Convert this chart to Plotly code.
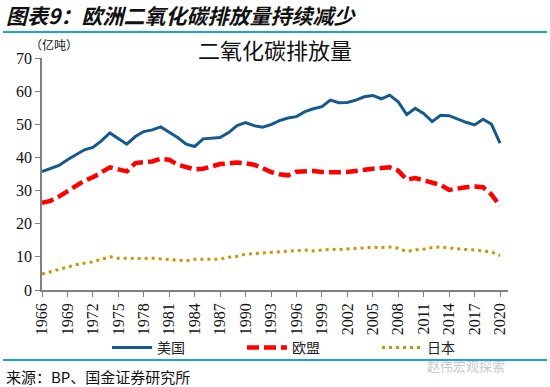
import plotly.graph_objects as go

years = list(range(1966, 2021))
tick_years = list(range(1966, 2021, 3))

us = [35.7, 36.7, 37.6, 39.3, 40.7, 42.3, 43.0, 45.0, 47.4, 45.7,
      44.0, 46.3, 47.8, 48.3, 49.2, 47.6, 46.0, 44.0, 43.3, 45.6,
      45.8, 46.0, 47.5, 49.6, 50.5, 49.6, 49.1, 49.9, 51.1, 51.9,
      52.3, 53.8, 54.7, 55.3, 57.3, 56.5, 56.6, 57.3, 58.3, 58.7,
      57.7, 58.8, 56.8, 52.9, 54.8, 53.3, 50.8, 52.7, 52.6, 51.5,
      50.6, 49.8, 51.5, 50.0, 44.3]

eu = [26.3, 26.9, 28.2, 29.8, 31.5, 33.0, 34.0, 35.5, 37.0, 36.4,
      35.8, 38.3, 38.4, 38.8, 39.6, 39.3, 37.8, 37.0, 36.4, 36.6,
      37.2, 38.0, 38.2, 38.5, 38.2, 37.8, 36.8, 35.6, 34.9, 34.6,
      35.7, 35.9, 35.9, 35.6, 35.4, 35.5, 35.6, 36.0, 36.3, 36.6,
      36.8, 37.0, 36.0, 33.3, 33.8, 33.0, 32.4, 31.7, 30.2, 30.7,
      31.0, 31.2, 31.0, 28.8, 25.3]

jp = [4.8, 5.5, 6.2, 7.0, 7.6, 8.1, 8.5, 9.3, 10.0, 9.6,
      9.5, 9.6, 9.5, 9.6, 9.4, 9.3, 9.0, 8.8, 9.3, 9.3,
      9.3, 9.3, 9.9, 10.2, 10.8, 11.0, 11.2, 11.2, 11.6, 11.8,
      12.0, 12.1, 11.8, 12.1, 12.3, 12.2, 12.4, 12.6, 12.8, 12.9,
      12.8, 13.0, 12.6, 11.6, 12.1, 12.3, 12.8, 13.0, 12.7, 12.4,
      12.2, 12.1, 11.8, 11.5, 10.4]

names = ["美国", "欧盟", "日本"]

W, H = 550, 387
L, R, T, B = 42, 508, 58, 290

def px(x):
    return (x - L) / (R - L)

def py(y):
    return (B - y) / (B - T)

CJK = "Noto Sans CJK SC"
SERIF = "Liberation Serif"

fig = go.Figure()
fig.add_trace(go.Scatter(x=years, y=us, name=names[0], mode="lines",
                         line=dict(color="#16598C", width=3)))
fig.add_trace(go.Scatter(x=years, y=eu, name=names[1], mode="lines",
                         line=dict(color="#FF0000", width=4.5, dash="12px,5px")))
fig.add_trace(go.Scatter(x=years, y=jp, name=names[2], mode="lines",
                         line=dict(color="#C89608", width=3, dash="3px,4px")))

x_end = 1966 + (R - L) / ((500 - 42) / 54)

fig.update_layout(
    width=W, height=H,
    margin=dict(l=L, r=W - R, t=T, b=H - B, pad=0, autoexpand=False),
    paper_bgcolor="white", plot_bgcolor="white",
    showlegend=True,
    legend=dict(orientation="h", x=px(107), xanchor="left", y=py(348), yanchor="middle",
                font=dict(family=CJK, size=14, color="#222"),
                entrywidth=80, entrywidthmode="pixels", itemwidth=40,
                bgcolor="rgba(0,0,0,0)"),
    xaxis=dict(range=[1966, x_end], tickmode="array", tickvals=tick_years,
               ticktext=[str(y) for y in tick_years], tickangle=-90,
               ticks="outside", ticklen=5, tickcolor="#808080",
               showline=True, linecolor="#808080", linewidth=1.5,
               showgrid=False, zeroline=False, automargin=False,
               tickfont=dict(family=SERIF, size=16, color="#111")),
    yaxis=dict(range=[0, 70], dtick=10, ticks="outside", ticklen=5, tickcolor="#808080",
               showline=True, linecolor="#808080", linewidth=1.5,
               showgrid=False, zeroline=False, automargin=False,
               tickfont=dict(family=SERIF, size=16, color="#111")),
    annotations=[
        dict(text="<b><i>图表9：欧洲二氧化碳排放量持续减少</i></b>", xref="paper", yref="paper",
             x=px(4), y=py(15), xanchor="left", yanchor="middle", showarrow=False,
             font=dict(family=CJK, size=21, color="#111")),
        dict(text="二氧化碳排放量", xref="paper", yref="paper",
             x=px(275), y=py(49), xanchor="center", yanchor="middle", showarrow=False,
             font=dict(family=CJK, size=22, color="#111")),
        dict(text="（亿吨）", xref="paper", yref="paper",
             x=px(28), y=py(45), xanchor="left", yanchor="middle", showarrow=False,
             font=dict(family=CJK, size=12, color="#111")),
        dict(text="来源：BP、国金证券研究所", xref="paper", yref="paper",
             x=px(4), y=py(376), xanchor="left", yanchor="middle", showarrow=False,
             font=dict(family=CJK, size=15, color="#111")),
        dict(text="赵伟宏观探索", xref="paper", yref="paper",
             x=px(507), y=py(365), xanchor="right", yanchor="middle", showarrow=False,
             font=dict(family=CJK, size=13, color="rgba(150,150,150,0.55)")),
    ],
    shapes=[
        dict(type="line", xref="paper", yref="paper", x0=px(3), x1=px(547),
             y0=py(32), y1=py(32), line=dict(color="#1AA3E0", width=2)),
        dict(type="line", xref="paper", yref="paper", x0=px(3), x1=px(547),
             y0=py(360), y1=py(360), line=dict(color="#1AA3E0", width=2)),
    ],
)

fig.write_html("out.html", config={"displayModeBar": False},
               post_script="document.body.style.margin='0';document.body.style.overflow='hidden';")
